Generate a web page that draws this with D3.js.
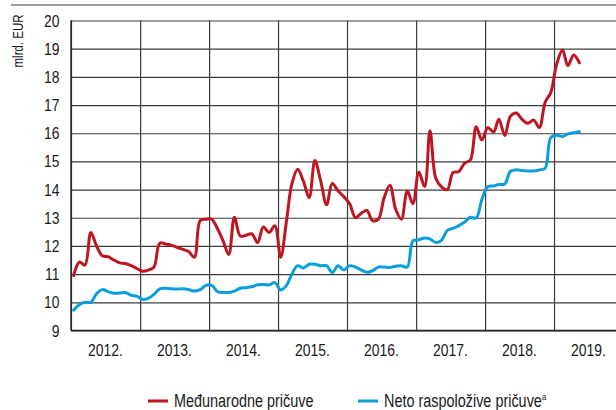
<!DOCTYPE html>
<html>
<head>
<meta charset="utf-8">
<script src="https://cdn.jsdelivr.net/npm/d3@7/dist/d3.min.js"></script>
<style>
  html, body { margin: 0; padding: 0; background: #fff; }
  svg { display: block; }
  text { font-family: "Liberation Sans", Arial, sans-serif; fill: #1a1a1a; }
</style>
</head>
<body>
<svg id="chart" width="616" height="410"></svg>
<script>
// Monthly reserves, billions of EUR, Jan 2012 – May 2019
const years = ["2012.", "2013.", "2014.", "2015.", "2016.", "2017.", "2018.", "2019."];
const yTicks = [9, 10, 11, 12, 13, 14, 15, 16, 17, 18, 19, 20];

const medjunarodne = [
  10.95, 11.43, 11.32, 12.48, 12.0, 11.65, 11.62, 11.5, 11.4, 11.38, 11.3, 11.2,
  11.1, 11.15, 11.25, 12.1, 12.07, 12.03, 11.95, 11.88, 11.8, 11.6, 12.9, 12.95,
  12.95, 12.6, 12.2, 11.7, 13.02, 12.35, 12.38, 12.43, 12.12, 12.67, 12.48, 12.72,
  11.6, 12.9, 14.2, 14.72, 14.3, 13.72, 15.03, 14.3, 13.46, 14.22, 13.95, 13.75,
  13.5, 13.0, 13.15, 13.26, 12.9, 12.95, 13.7, 14.15, 13.3, 12.95, 13.95, 13.5,
  14.62, 14.11, 16.09, 14.4, 14.1, 14.0, 14.6, 14.64, 14.94, 15.05, 16.23, 15.76,
  16.2, 16.05, 16.5, 15.92, 16.6, 16.72, 16.5, 16.35, 16.47, 16.2, 17.1, 17.45,
  18.45, 18.95, 18.4, 18.78, 18.5
];

const netoRaspolozive = [
  9.72, 9.92, 10.0, 10.0, 10.3, 10.45, 10.38, 10.32, 10.33, 10.35, 10.25, 10.22,
  10.1, 10.15, 10.28, 10.48, 10.5, 10.48, 10.47, 10.48, 10.45, 10.4, 10.45, 10.6,
  10.6, 10.38, 10.35, 10.35, 10.4, 10.5, 10.52, 10.55, 10.62, 10.63, 10.62, 10.7,
  10.44, 10.6, 11.0, 11.3, 11.22, 11.35, 11.35, 11.3, 11.3, 11.06, 11.3, 11.15,
  11.3, 11.25, 11.15, 11.07, 11.12, 11.25, 11.25, 11.24, 11.28, 11.3, 11.25, 12.18,
  12.22, 12.28, 12.25, 12.12, 12.2, 12.55, 12.62, 12.72, 12.85, 13.02, 12.99, 13.65,
  14.1, 14.13, 14.18, 14.2, 14.65, 14.7, 14.68, 14.66, 14.66, 14.7, 14.76, 15.85,
  15.93, 15.88, 15.98, 16.02, 16.05
];

const seriesNames = ["Međunarodne pričuve", "Neto raspoložive pričuve"];
const seriesColors = ["#bf1520", "#0a9fdc"];

const svg = d3.select("#chart");
const W = 616, H = 410;
const plotLeft = 71, plotTop = 20.5, plotBottom = 330.5;
const yearWidth = 69;
const narrow = 0.82; // horizontal squeeze giving a narrow face

const monthDate = i => new Date(2012, i, 15);
const x = d3.scaleTime()
  .domain([new Date(2012, 0, 1), new Date(2020, 0, 1)])
  .range([plotLeft, plotLeft + yearWidth * 8]);
const y = d3.scaleLinear().domain([9, 20]).range([plotBottom, plotTop]);
const yearBand = d3.scaleBand().domain(years).range([plotLeft, plotLeft + yearWidth * 8]);

// place a narrow text at (px, py)
function narrowText(parent, px, py, str, size, anchor, rotate) {
  return parent.append("text")
    .attr("transform", `translate(${px},${py})${rotate ? ` rotate(${rotate})` : ""} scale(${narrow},1)`)
    .attr("text-anchor", anchor)
    .attr("font-size", size)
    .text(str);
}

// rule across the top
svg.append("line")
  .attr("x1", 11).attr("x2", W).attr("y1", 5).attr("y2", 5)
  .attr("stroke", "#3a3a3a").attr("stroke-width", 1.2);

// horizontal gridlines
const yAxis = svg.append("g")
  .attr("transform", `translate(${plotLeft},0)`)
  .call(d3.axisLeft(y).tickValues(yTicks).tickSize(-(W - plotLeft)).tickFormat(""));
yAxis.select(".domain").remove();
yAxis.selectAll(".tick line").attr("stroke", "#3c3c3c").attr("stroke-width", 1.2);

// value labels
const yLabels = svg.append("g");
yTicks.forEach(v => narrowText(yLabels, 59.5, y(v) + 6, d3.format("d")(v), 17, "end"));

// vertical year dividers
const xAxis = svg.append("g")
  .attr("transform", `translate(0,${plotBottom})`)
  .call(d3.axisBottom(x).ticks(d3.timeYear.every(1)).tickSize(-(plotBottom - plotTop)).tickFormat(""));
xAxis.select(".domain").remove();
xAxis.selectAll(".tick line").attr("stroke", "#3c3c3c").attr("stroke-width", 1.2);

// left and bottom frame
svg.append("line").attr("x1", plotLeft).attr("x2", plotLeft).attr("y1", plotTop).attr("y2", plotBottom)
  .attr("stroke", "#222").attr("stroke-width", 1.4);
svg.append("line").attr("x1", plotLeft).attr("x2", W).attr("y1", plotBottom).attr("y2", plotBottom)
  .attr("stroke", "#222").attr("stroke-width", 1.4);

// year labels centred in each year
const xLabels = svg.append("g");
years.forEach(yr => narrowText(xLabels, yearBand(yr) + yearBand.bandwidth() / 2, 356, yr, 17, "middle"));

// unit label
narrowText(svg, 23, 41, "mlrd. EUR", 14, "middle", -90);

// series lines
const line = d3.line()
  .x((d, i) => x(monthDate(i)))
  .y(d => y(d))
  .curve(d3.curveCatmullRom.alpha(0.5));

[[netoRaspolozive, seriesColors[1]], [medjunarodne, seriesColors[0]]].forEach(([vals, color]) => {
  svg.append("path")
    .datum(vals)
    .attr("fill", "none")
    .attr("stroke", color)
    .attr("stroke-width", 3)
    .attr("stroke-linejoin", "round")
    .attr("stroke-linecap", "round")
    .attr("d", line);
});

// legend
const legend = svg.append("g");
const legendX = [148, 358];
seriesNames.forEach((name, k) => {
  legend.append("line")
    .attr("x1", legendX[k]).attr("x2", legendX[k] + 20)
    .attr("y1", 401).attr("y2", 401)
    .attr("stroke", seriesColors[k]).attr("stroke-width", 3);
  const t = narrowText(legend, legendX[k] + 26, 407, name, 17.6, "start");
  if (k === 1) {
    t.append("tspan").attr("font-size", 9.5).attr("dy", -7).text("a");
  }
});
</script>
</body>
</html>
